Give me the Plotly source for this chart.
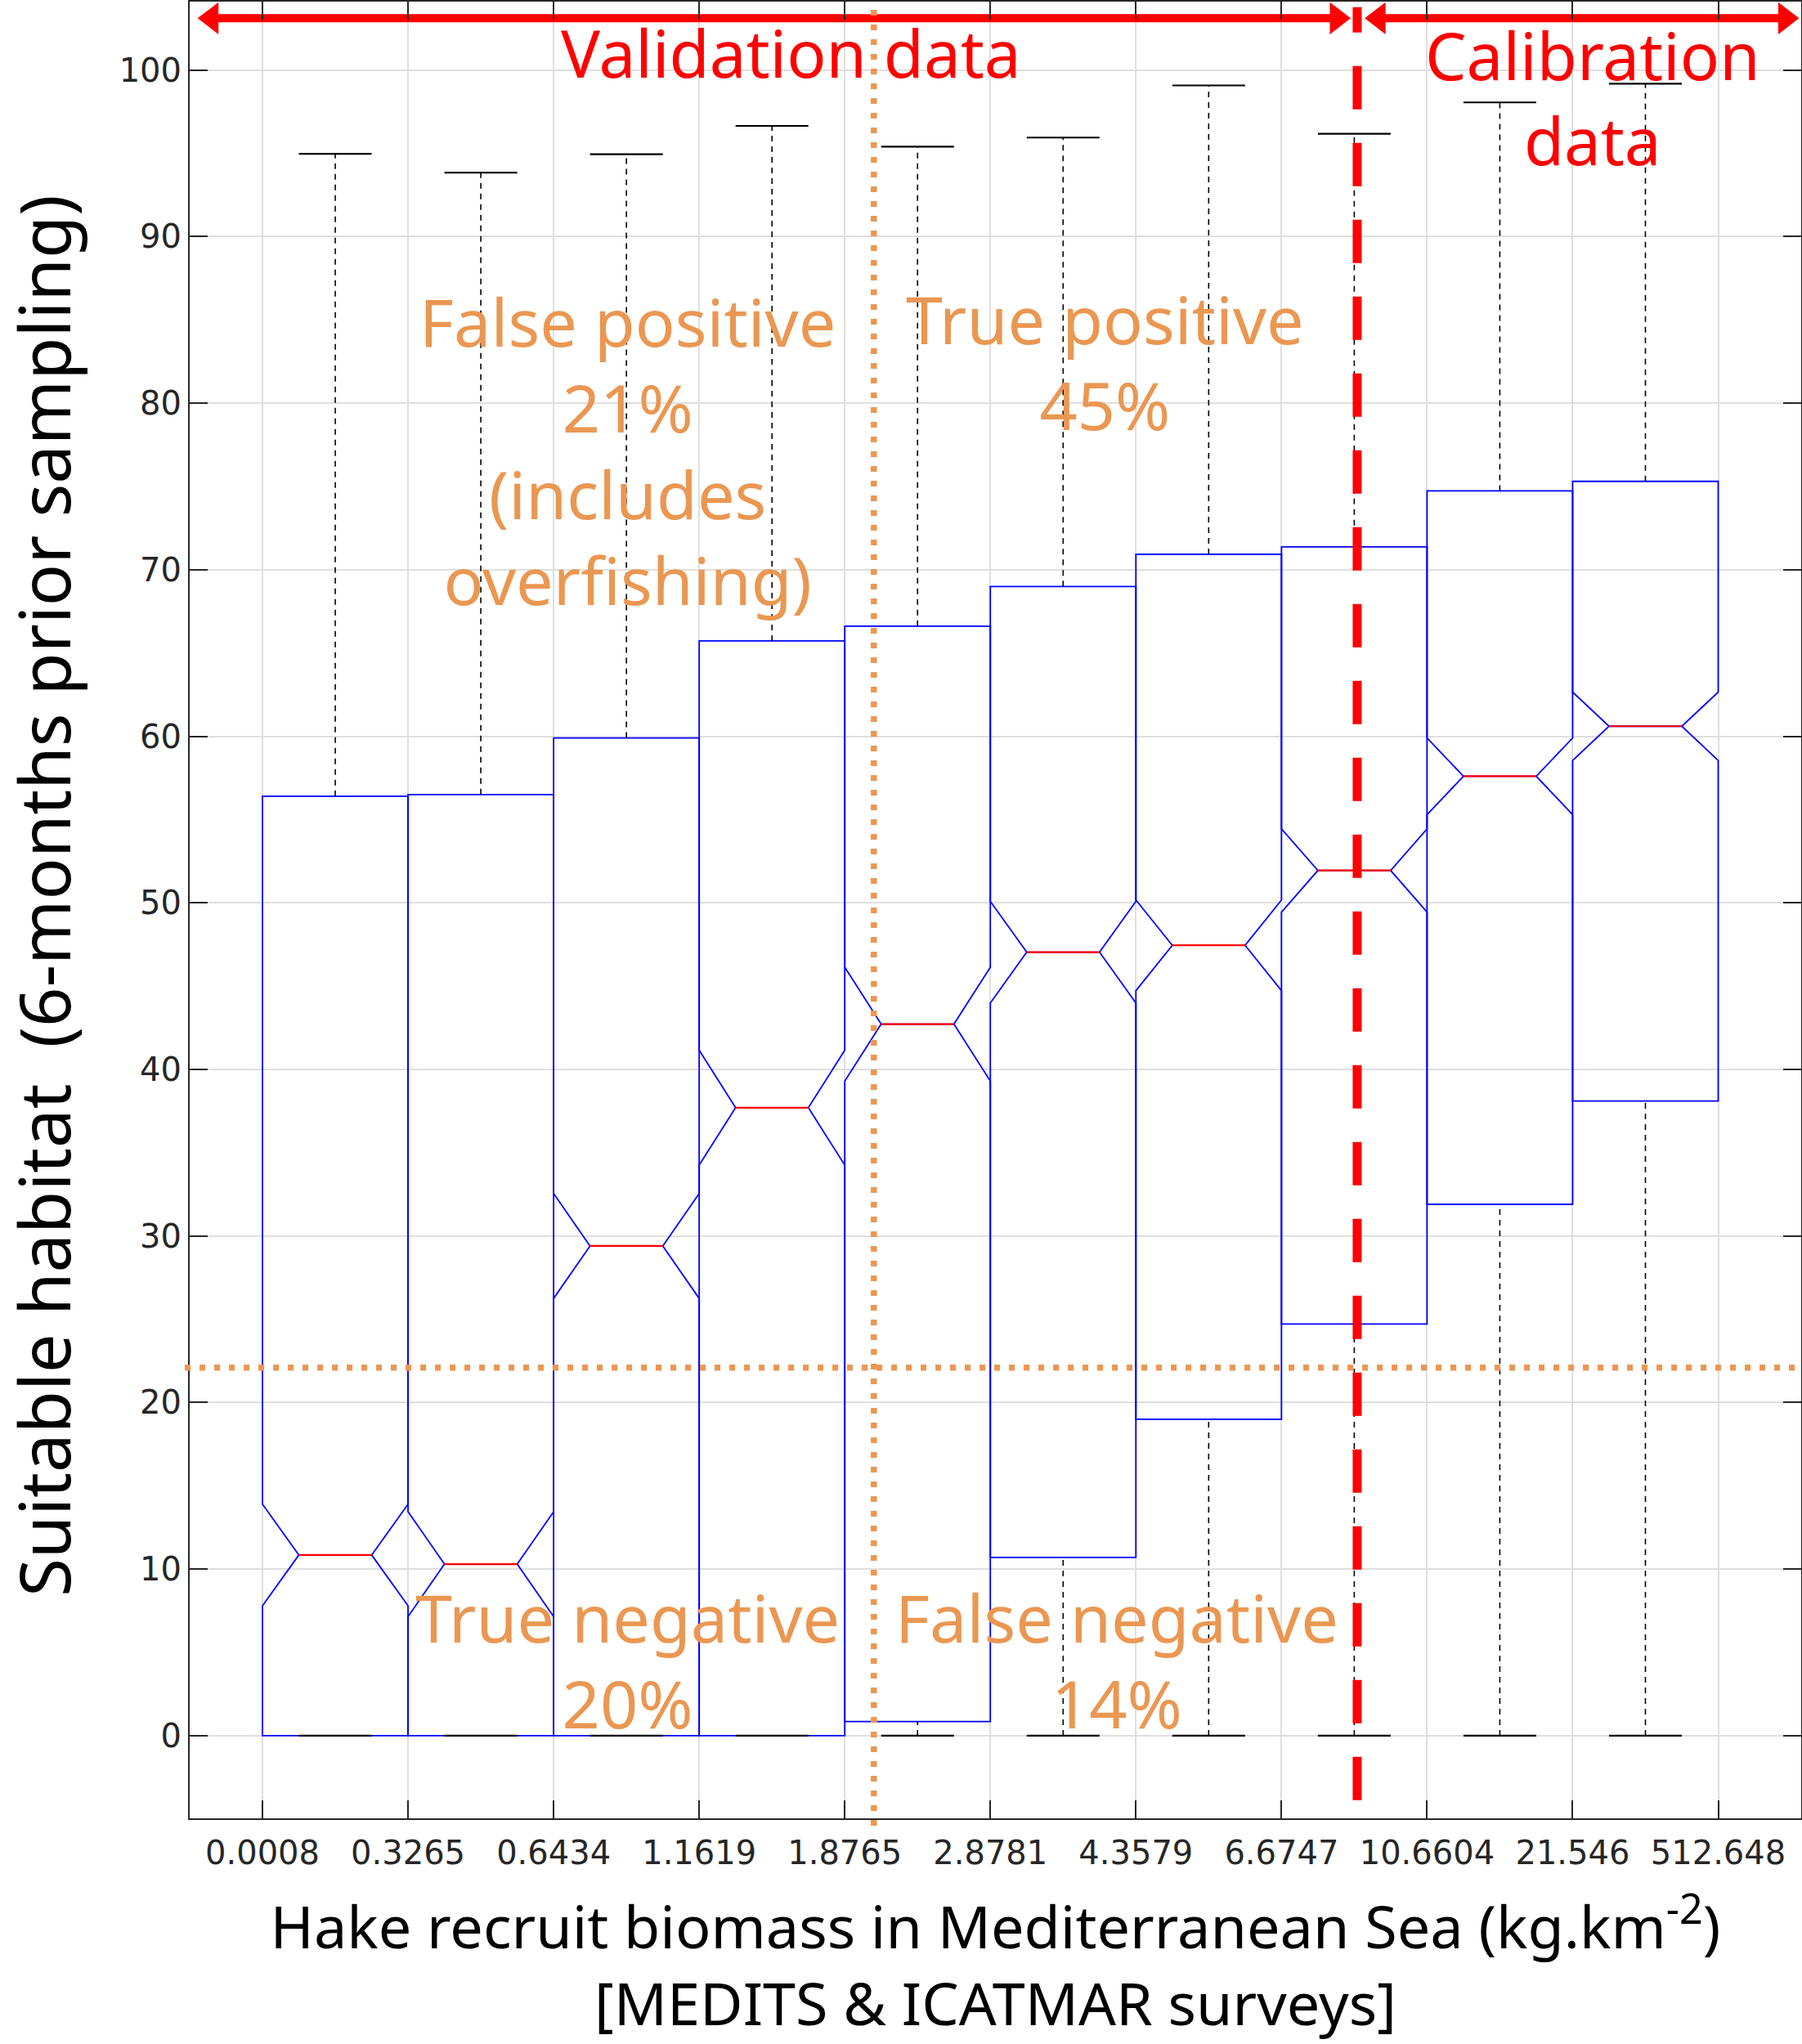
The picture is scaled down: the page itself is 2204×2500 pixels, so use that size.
import plotly.graph_objects as go

# ---------------- data ----------------
bin_edges = ["0.0008", "0.3265", "0.6434", "1.1619", "1.8765", "2.8781",
             "4.3579", "6.6747", "10.6604", "21.546", "512.648"]
edge_pos = list(range(1, len(bin_edges) + 1))
box_pos = [1.5 + i for i in range(len(bin_edges) - 1)]

q1 = [0.0, 0.0, 0.0, 0.0, 0.85, 10.7, 19.0, 24.72, 31.9, 38.1]
median = [10.85, 10.3, 29.4, 37.7, 42.72, 47.04, 47.45, 51.94, 57.6, 60.6]
q3 = [56.4, 56.5, 59.9, 65.72, 66.61, 68.99, 70.92, 71.37, 74.73, 75.3]
notch_span = [3.05, 3.15, 3.15, 3.45, 3.42, 3.05, 2.72, 2.5, 2.3, 2.05]
upper_whisker = [94.96, 93.84, 94.94, 96.64, 95.39, 95.94, 99.07, 96.17, 98.05, 99.17]
lower_whisker = [0, 0, 0, 0, 0, 0, 0, 0, 0, 0]

threshold_y = 22.1          # horizontal orange dotted line
threshold_x = 5.2           # vertical orange dotted line
calib_split = 8.52          # red dashed line
validation_span = [0.54, 8.49]
calibration_span = [8.557, 11.57]
arrow_y = 103.1

BOX_W = 1.0
CAP_W = 0.5
MED_W = 0.5

ORANGE = "#EA9752"
RED = "#FF0000"
BLUE = "#0000FF"
AX = "#262626"
FONT = "Noto Sans"
TICKFONT = "DejaVu Sans"

fig = go.Figure()

# whiskers (dashed black)
wx, wy = [], []
for c, a, b, lo, hi in zip(box_pos, q1, q3, lower_whisker, upper_whisker):
    wx += [c, c, None]
    wy += [b, hi, None]
    if a > lo:
        wx += [c, c, None]
        wy += [lo, a, None]
fig.add_trace(go.Scatter(x=wx, y=wy, mode="lines", hoverinfo="skip",
                         line=dict(color="black", width=1.6, dash="7px,6px"),
                         showlegend=False))

# whisker caps
cx, cy = [], []
for c, lo, hi in zip(box_pos, lower_whisker, upper_whisker):
    cx += [c - CAP_W / 2, c + CAP_W / 2, None, c - CAP_W / 2, c + CAP_W / 2, None]
    cy += [hi, hi, None, lo, lo, None]
fig.add_trace(go.Scatter(x=cx, y=cy, mode="lines", hoverinfo="skip",
                         line=dict(color="black", width=2.2),
                         showlegend=False))

# notched boxes
fig.add_trace(go.Box(x=box_pos, q1=q1, median=median, q3=q3,
                     lowerfence=q1, upperfence=q3, notchspan=notch_span,
                     notched=True, notchwidth=0.25, width=BOX_W,
                     whiskerwidth=0, boxpoints=False,
                     line=dict(color=BLUE, width=1.8),
                     fillcolor="rgba(0,0,0,0)", showlegend=False))

# red medians
mx, my = [], []
for c, m in zip(box_pos, median):
    mx += [c - MED_W / 2, c + MED_W / 2, None]
    my += [m, m, None]
fig.add_trace(go.Scatter(x=mx, y=my, mode="lines", hoverinfo="skip",
                         line=dict(color=RED, width=2.2), showlegend=False))

# orange dotted reference lines and red dashed split
fig.add_shape(type="line", xref="x", yref="paper", x0=threshold_x, x1=threshold_x,
              y0=-0.004, y1=1, layer="above",
              line=dict(color=ORANGE, width=7.5, dash="7px,11px"))
fig.add_shape(type="line", xref="paper", yref="y", x0=-0.003, x1=1,
              y0=threshold_y, y1=threshold_y, layer="above",
              line=dict(color=ORANGE, width=7.5, dash="7px,11px"))
fig.add_shape(type="line", xref="x", yref="paper", x0=calib_split, x1=calib_split,
              y0=0.01, y1=0.997, layer="above",
              line=dict(color=RED, width=11, dash="53px,41px"))

# double-headed arrows (line + triangle markers)
HEAD_OFF = 0.11
for span in (validation_span, calibration_span):
    a, b = span[0] + HEAD_OFF, span[1] - HEAD_OFF
    fig.add_trace(go.Scatter(x=[a, b], y=[arrow_y, arrow_y], mode="lines+markers",
                             line=dict(color=RED, width=10),
                             marker=dict(symbol=["triangle-left", "triangle-right"],
                                         size=34, color=RED, line=dict(width=0)),
                             cliponaxis=False, hoverinfo="skip", showlegend=False))

# annotations
def note(text, x, y, color, size):
    fig.add_annotation(text=text, x=x, y=y, xref="x", yref="y", showarrow=False,
                       xanchor="center", yanchor="middle",
                       font=dict(family=FONT, size=size, color=color))

note("Validation data", 4.63, 101.1, RED, 80)
note("Calibration<br>data", 10.14, 98.4, RED, 80)
note("False positive<br>21%<br>(includes<br>overfishing)", 3.51, 77.2, ORANGE, 81)
note("True positive<br>45%", 6.79, 82.5, ORANGE, 81)
note("True negative<br>20%", 3.51, 4.55, ORANGE, 81)
note("False negative<br>14%", 6.87, 4.55, ORANGE, 81)

# y axis title
fig.add_annotation(text="Suitable habitat\u00a0\u00a0(6-months prior sampling)",
                   xref="paper", yref="paper", x=-0.0905, y=0.508,
                   xanchor="center", yanchor="middle", textangle=-90,
                   showarrow=False, font=dict(family=FONT, size=85, color="black"))

fig.update_layout(
    width=2204, height=2500,
    margin=dict(l=232, r=1, t=2, b=276),
    paper_bgcolor="white", plot_bgcolor="white",
    font=dict(family=FONT, color=AX),
    xaxis=dict(range=[0.5, 11.57], tickvals=edge_pos, ticktext=bin_edges,
               showgrid=True, gridcolor="#DFDFDF", gridwidth=1.5,
               ticks="inside", ticklen=22, tickwidth=2, tickcolor=AX,
               showline=True, linecolor=AX, linewidth=2, mirror="ticks",
               zeroline=False, automargin=False, ticklabelstandoff=6,
               tickfont=dict(family=TICKFONT, size=40, color=AX),
               title=dict(text="Hake recruit biomass in Mediterranean Sea (kg.km<sup>-2</sup>)<br>[MEDITS &amp; ICATMAR surveys]",
                          font=dict(family=FONT, size=72, color="black"), standoff=45)),
    yaxis=dict(range=[-4.96, 104.1], tickvals=list(range(0, 101, 10)),
               showgrid=True, gridcolor="#DFDFDF", gridwidth=1.5,
               ticks="inside", ticklen=22, tickwidth=2, tickcolor=AX,
               showline=True, linecolor=AX, linewidth=2, mirror="ticks",
               zeroline=False, automargin=False,
               tickfont=dict(family=TICKFONT, size=40, color=AX)),
)

fig.write_html("out.html", config={"displayModeBar": False},
               post_script="document.body.style.margin='0';")
